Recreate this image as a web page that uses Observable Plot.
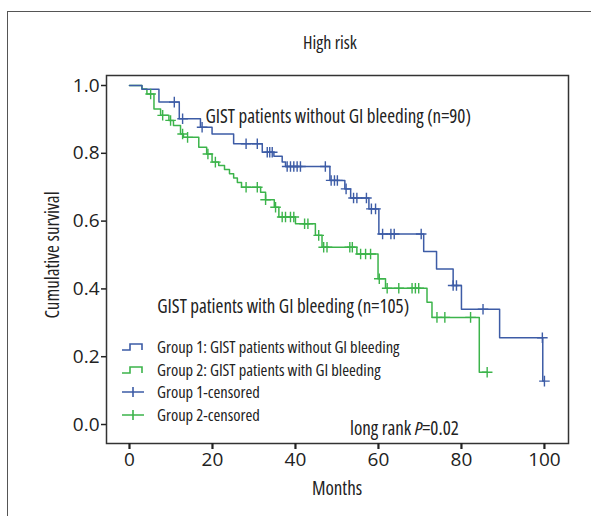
<!DOCTYPE html>
<html><head><meta charset="utf-8">
<script src="https://cdn.jsdelivr.net/npm/d3@7"></script>
<script src="https://cdn.jsdelivr.net/npm/@observablehq/plot@0.6"></script>
<style>
body{margin:0;background:#fff;}
#wrap{position:relative;width:591px;height:516px;overflow:hidden;font-family:"Open Sans",sans-serif;font-stretch:78%;color:#222;}
#wrap svg text{font-stretch:78%;}
#wrap svg g[aria-label="y-axis tick label"] text,#wrap svg g[aria-label="x-axis tick label"] text{font-stretch:88%;}
#border{position:absolute;left:7px;top:11px;width:700px;height:600px;border-left:1.3px solid #555;border-top:1.3px solid #555;}
#title{position:absolute;left:230px;width:200px;top:42px;text-align:center;font-size:18px;transform:translateY(-50%);}
#chart{position:absolute;left:0;top:0;}
#legend{position:absolute;left:121px;top:336px;font-size:16.5px;font-stretch:78%;}
#legend .row{height:22.5px;line-height:22.5px;white-space:nowrap;}
#legend .row span{display:inline-block;height:22.5px;line-height:22.5px;vertical-align:top;}
#legend svg{vertical-align:top;margin-top:5px;margin-right:12px;}
#pval{position:absolute;left:350px;top:428px;font-size:19px;white-space:nowrap;transform:translateY(-50%);}
#ylab{position:absolute;left:52px;top:255px;font-size:19px;white-space:nowrap;transform:translate(-50%,-50%) rotate(-90deg);}
#xlab{position:absolute;left:337px;top:488px;font-size:19px;white-space:nowrap;transform:translate(-50%,-50%);}
</style></head>
<body>
<div id="wrap">
  <div id="border"></div>
  <div id="title"></div>
  <div id="chart"></div>
  <div id="legend"></div>
  <div id="pval"></div>
  <div id="ylab"></div>
  <div id="xlab"></div>
</div>
<script>
// ---- data ----
const titleText = "High risk";
const xLabel = "Months";
const yLabel = "Cumulative survival";
const xTicks = [0, 20, 40, 60, 80, 100];
const yTicks = [0, 0.2, 0.4, 0.6, 0.8, 1.0];

// Group 1: without GI bleeding (step points: time, survival after step)
const g1Time = [0, 3.0, 7.1, 12.0, 17.1, 19.9, 25.1, 32.0, 34.8, 36.8, 37.6, 48.3, 51.9, 53.3, 57.7, 60.1, 70.9, 74.0, 78.0, 80.0, 89.2, 99.6, 100];
const g1Surv = [1.0, 0.989, 0.951, 0.902, 0.877, 0.857, 0.828, 0.803, 0.791, 0.774, 0.761, 0.720, 0.695, 0.668, 0.636, 0.562, 0.510, 0.459, 0.410, 0.340, 0.256, 0.128, 0.128];
const g1CensT = [10.8, 12.8, 17.5, 28.1, 30.8, 33.2, 33.8, 34.4, 38.0, 38.8, 39.6, 40.4, 41.2, 47.2, 48.6, 49.4, 50.1, 52.2, 54.0, 54.8, 57.1, 58.3, 59.3, 61.0, 63.0, 63.8, 70.3, 78.0, 78.8, 85.2, 99.5, 100];
const g1CensS = [0.951, 0.902, 0.877, 0.828, 0.828, 0.803, 0.803, 0.803, 0.761, 0.761, 0.761, 0.761, 0.761, 0.761, 0.720, 0.720, 0.720, 0.695, 0.668, 0.668, 0.668, 0.636, 0.636, 0.562, 0.562, 0.562, 0.562, 0.410, 0.410, 0.340, 0.256, 0.128];

// Group 2: with GI bleeding
const g2Time = [0, 3.0, 4.2, 5.9, 7.5, 9.5, 10.6, 12.3, 13.0, 16.7, 18.6, 19.9, 21.5, 22.9, 24.1, 25.1, 26.0, 27.0, 31.6, 32.8, 34.9, 36.0, 40.0, 44.8, 46.4, 54.8, 59.9, 61.7, 71.7, 72.9, 84.3, 86.2];
const g2Surv = [1.0, 0.990, 0.975, 0.931, 0.912, 0.897, 0.882, 0.857, 0.847, 0.818, 0.798, 0.774, 0.764, 0.752, 0.740, 0.727, 0.714, 0.700, 0.685, 0.663, 0.641, 0.612, 0.592, 0.558, 0.523, 0.503, 0.430, 0.402, 0.361, 0.316, 0.154, 0.154];
const g2CensT = [5.1, 8.0, 9.9, 12.8, 14.0, 18.9, 20.7, 28.1, 30.8, 32.8, 35.2, 36.8, 37.6, 38.8, 39.6, 42.2, 43.0, 45.6, 46.8, 47.6, 53.1, 53.7, 55.7, 56.9, 58.1, 60.2, 62.1, 64.9, 68.1, 68.9, 69.7, 74.1, 76.0, 82.2, 86.2];
const g2CensS = [0.975, 0.912, 0.897, 0.857, 0.847, 0.798, 0.774, 0.700, 0.700, 0.663, 0.641, 0.612, 0.612, 0.612, 0.612, 0.592, 0.592, 0.558, 0.523, 0.523, 0.523, 0.523, 0.503, 0.503, 0.503, 0.430, 0.402, 0.402, 0.402, 0.402, 0.402, 0.316, 0.316, 0.316, 0.154];

const annText = ["GIST patients without GI bleeding (n=90)", "GIST patients with GI bleeding (n=105)"];
const annX = [18.3, 6.7];
const annY = [0.906, 0.348];

const legendLabels = ["Group 1: GIST patients without GI bleeding", "Group 2: GIST patients with GI bleeding", "Group 1-censored", "Group 2-censored"];
const pText = ["long rank ", "P", "=0.02"];

const blue = "#3d5ca6";
const green = "#3cb44b";
const font = '"Open Sans",sans-serif';

// ---- build tables ----
const g1 = g1Time.map((t, i) => ({t, s: g1Surv[i]}));
const g2 = g2Time.map((t, i) => ({t, s: g2Surv[i]}));
const c1 = g1CensT.map((t, i) => ({t, s: g1CensS[i]}));
const c2 = g2CensT.map((t, i) => ({t, s: g2CensS[i]}));
const ann = annText.map((text, i) => ({text, x: annX[i], y: annY[i]}));

const chart = Plot.plot({
  width: 591, height: 516,
  marginLeft: 106, marginRight: 23, marginTop: 75, marginBottom: 73,
  x: {domain: [-5.54, 105.8]},
  y: {domain: [-0.056, 1.0295]},
  style: {fontFamily: font, fontSize: "19px", color: "#222", background: "transparent", overflow: "visible"},
  marks: [
    Plot.frame({stroke: "#333", strokeWidth: 1.5}),
    Plot.axisY({ticks: yTicks, tickFormat: d => d.toFixed(1), tickSize: 5, tickPadding: 2, strokeWidth: 1.5, label: null}),
    Plot.axisX({ticks: xTicks, tickSize: 6, tickPadding: 3, strokeWidth: 2.2, label: null}),
    Plot.line(g2, {x: "t", y: "s", curve: "step-after", stroke: green, strokeWidth: 1.5}),
    Plot.line(g1, {x: "t", y: "s", curve: "step-after", stroke: blue, strokeWidth: 1.5}),
    Plot.dot(c2, {x: "t", y: "s", symbol: "plus", r: 3.5, stroke: green, strokeWidth: 1.4}),
    Plot.dot(c1, {x: "t", y: "s", symbol: "plus", r: 3.5, stroke: blue, strokeWidth: 1.4}),
    Plot.text(ann, {x: "x", y: "y", text: "text", textAnchor: "start", fontSize: 19, fill: "#222"})
  ]
});
document.getElementById("chart").appendChild(chart);
document.getElementById("title").textContent = titleText;
document.getElementById("xlab").textContent = xLabel;
document.getElementById("ylab").textContent = yLabel;

// legend
const lg = document.getElementById("legend");
const sym = [
  `<svg width="24" height="12"><path d="M1,9H9V3H21V9" fill="none" stroke="${blue}" stroke-width="1.6"/></svg>`,
  `<svg width="24" height="12"><path d="M1,9H9V3H21V9" fill="none" stroke="${green}" stroke-width="1.6"/></svg>`,
  `<svg width="24" height="12"><path d="M1,6H23M12,1V11" fill="none" stroke="${blue}" stroke-width="1.6"/></svg>`,
  `<svg width="24" height="12"><path d="M1,6H23M12,1V11" fill="none" stroke="${green}" stroke-width="1.6"/></svg>`
];
legendLabels.forEach((l, i) => {
  const r = document.createElement("div");
  r.className = "row";
  r.innerHTML = sym[i] + "<span></span>";
  r.querySelector("span").textContent = l;
  lg.appendChild(r);
});
const pv = document.getElementById("pval");
pv.innerHTML = "<span></span><i></i><span></span>";
pv.children[0].textContent = pText[0];
pv.children[1].textContent = pText[1];
pv.children[2].textContent = pText[2];
</script>
</body></html>
